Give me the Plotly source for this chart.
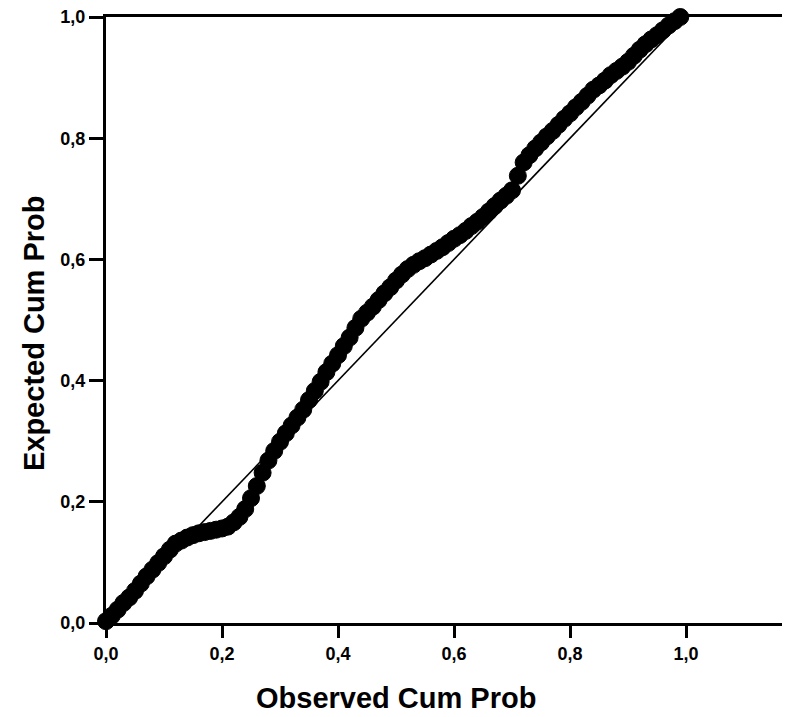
import plotly.graph_objects as go

observed = [0.00, 0.01, 0.02, 0.03, 0.04, 0.05, 0.06, 0.07, 0.08, 0.09,
            0.10, 0.11, 0.12, 0.13, 0.14, 0.15, 0.16, 0.17, 0.18, 0.19,
            0.20, 0.21, 0.22, 0.23, 0.24, 0.25, 0.26, 0.27, 0.28, 0.29,
            0.30, 0.31, 0.32, 0.33, 0.34, 0.35, 0.36, 0.37, 0.38, 0.39,
            0.40, 0.41, 0.42, 0.43, 0.44, 0.45, 0.46, 0.47, 0.48, 0.49,
            0.50, 0.51, 0.52, 0.53, 0.54, 0.55, 0.56, 0.57, 0.58, 0.59,
            0.60, 0.61, 0.62, 0.63, 0.64, 0.65, 0.66, 0.67, 0.68, 0.69,
            0.70, 0.71, 0.72, 0.73, 0.74, 0.75, 0.76, 0.77, 0.78, 0.79,
            0.80, 0.81, 0.82, 0.83, 0.84, 0.85, 0.86, 0.87, 0.88, 0.89,
            0.90, 0.91, 0.92, 0.93, 0.94, 0.95, 0.96, 0.97, 0.98, 0.99]
expected = [0.003, 0.012, 0.022, 0.033, 0.042, 0.053, 0.065, 0.077, 0.088, 0.099,
            0.110, 0.121, 0.131, 0.136, 0.141, 0.145, 0.148, 0.150, 0.152, 0.154,
            0.156, 0.159, 0.166, 0.175, 0.188, 0.206, 0.226, 0.248, 0.268, 0.284,
            0.299, 0.313, 0.326, 0.339, 0.352, 0.368, 0.383, 0.398, 0.414, 0.428,
            0.442, 0.457, 0.471, 0.487, 0.502, 0.512, 0.522, 0.533, 0.544, 0.554,
            0.565, 0.575, 0.584, 0.591, 0.597, 0.602, 0.608, 0.614, 0.620, 0.627,
            0.634, 0.640, 0.647, 0.655, 0.662, 0.670, 0.679, 0.688, 0.697, 0.705,
            0.714, 0.738, 0.760, 0.772, 0.783, 0.793, 0.803, 0.812, 0.822, 0.832,
            0.841, 0.851, 0.860, 0.870, 0.880, 0.887, 0.895, 0.904, 0.911, 0.918,
            0.926, 0.936, 0.946, 0.955, 0.963, 0.970, 0.978, 0.986, 0.993, 1.000]

ref_line = [0.0, 1.0]
tick_vals = [0.0, 0.2, 0.4, 0.6, 0.8, 1.0]

fig = go.Figure()
fig.add_trace(go.Scatter(x=ref_line, y=ref_line, mode="lines",
                         line=dict(color="black", width=1.6), showlegend=False))
fig.add_trace(go.Scatter(x=observed, y=expected, mode="markers",
                         marker=dict(size=17, color="black", symbol="circle",
                                     line=dict(color="black", width=1)),
                         cliponaxis=False, showlegend=False))

fig.update_layout(
    width=790, height=717,
    margin=dict(l=98, r=0, t=9, b=102),
    paper_bgcolor="white", plot_bgcolor="white",
    separators=",.",
    font=dict(family="Liberation Sans, Arial, sans-serif", color="black"),
    xaxis=dict(range=[0, 1.193], tickvals=tick_vals, tickformat=".1f",
               showgrid=False, zeroline=False, showline=True, linecolor="black",
               linewidth=3, mirror=True, ticks="outside", ticklen=12, tickwidth=3,
               tickcolor="black", ticklabeloverflow="allow",
               tickfont=dict(size=18, color="black", weight="bold")),
    yaxis=dict(range=[0, 1.0], tickvals=tick_vals, tickformat=".1f",
               showgrid=False, zeroline=False, showline=True, linecolor="black",
               linewidth=3, ticks="outside", ticklen=14, tickwidth=3,
               tickcolor="black", ticklabeloverflow="allow",
               tickfont=dict(size=18, color="black", weight="bold")),
    annotations=[
        dict(text="<b>Observed Cum Prob</b>", x=0.5, xref="x", y=-0.124, yref="paper",
             xanchor="center", yanchor="middle", showarrow=False,
             font=dict(size=29, color="black")),
        dict(text="<b>Expected Cum Prob</b>", x=-0.105, xref="paper", y=0.479, yref="paper",
             xanchor="center", yanchor="middle", showarrow=False, textangle=-90,
             font=dict(size=29, color="black")),
    ],
)

fig.write_html("out.html")
